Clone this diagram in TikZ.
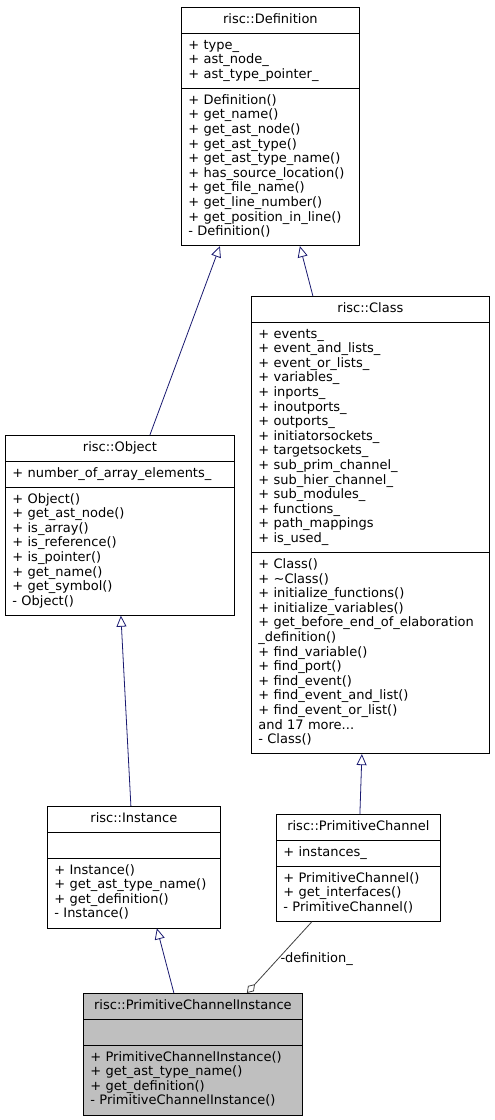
\documentclass[tikz,border=0pt]{standalone}
\usepackage{fontspec}
\setmainfont{DejaVu Sans}
\usetikzlibrary{shapes.multipart,arrows.meta}

\definecolor{inhblue}{HTML}{191970}
\definecolor{aggrey}{HTML}{404040}
\definecolor{curfill}{HTML}{BFBFBF}

\newcommand{\umltitle}[1]{\hbox to\hsize{\hss\strut #1\hss}}

\tikzset{
  umlfont/.style={font=\fontsize{13}{14.6}\selectfont},
  umlclass/.style={draw=black, line width=0.8pt, fill=white, rectangle split, rectangle split parts=3,
    anchor=north west, align=left, inner xsep=7pt, inner ysep=5.25pt, umlfont},
  inherit/.style={draw=inhblue, line width=0.8pt, -{Triangle[open, length=11pt, width=10pt]}},
  aggreg/.style={draw=aggrey, line width=0.8pt, -{Diamond[open, length=12pt, width=8pt]}}
}

\begin{document}
\begin{tikzpicture}[x=1pt, y=-1pt]
\useasboundingbox (0,0) rectangle (495,1120);

% base classes
\node[umlclass, text width=164pt] (def) at (181,7)
  {\umltitle{risc::Definition}
   \nodepart{second}\strut + type\_\\+ ast\_node\_\\+ ast\_type\_pointer\_\strut
   \nodepart{third}\strut + Definition()\\+ get\_name()\\+ get\_ast\_node()\\+ get\_ast\_type()\\+ get\_ast\_type\_name()\\+ has\_source\_location()\\+ get\_file\_name()\\+ get\_line\_number()\\+ get\_position\_in\_line()\\- Definition()\strut};

\node[umlclass, text width=224pt] (cls) at (251,296)
  {\umltitle{risc::Class}
   \nodepart{second}\strut + events\_\\+ event\_and\_lists\_\\+ event\_or\_lists\_\\+ variables\_\\+ inports\_\\+ inoutports\_\\+ outports\_\\+ initiatorsockets\_\\+ targetsockets\_\\+ sub\_prim\_channel\_\\+ sub\_hier\_channel\_\\+ sub\_modules\_\\+ functions\_\\+ path\_mappings\\+ is\_used\_\strut
   \nodepart{third}\strut + Class()\\+ \textasciitilde Class()\\+ initialize\_functions()\\+ initialize\_variables()\\\mbox{+ get\_before\_end\_of\_elaboration}\\\_definition()\\+ find\_variable()\\+ find\_port()\\+ find\_event()\\+ find\_event\_and\_list()\\+ find\_event\_or\_list()\\and 17 more...\\- Class()\strut};

\node[umlclass, text width=215pt] (obj) at (5,435)
  {\umltitle{risc::Object}
   \nodepart{second}\strut + number\_of\_array\_elements\_\strut
   \nodepart{third}\strut + Object()\\+ get\_ast\_node()\\+ is\_array()\\+ is\_reference()\\+ is\_pointer()\\+ get\_name()\\+ get\_symbol()\\- Object()\strut};

\node[umlclass, text width=159pt] (inst) at (47,806)
  {\umltitle{risc::Instance}
   \nodepart{second}\strut
   \nodepart{third}\strut + Instance()\\+ get\_ast\_type\_name()\\+ get\_definition()\\- Instance()\strut};

\node[umlclass, text width=150pt] (pch) at (276,814)
  {\umltitle{risc::PrimitiveChannel}
   \nodepart{second}\strut + instances\_\strut
   \nodepart{third}\strut + PrimitiveChannel()\\+ get\_interfaces()\\- PrimitiveChannel()\strut};

% the class itself
\node[umlclass, fill=curfill, text width=205pt] (pci) at (83,993)
  {\umltitle{risc::PrimitiveChannelInstance}
   \nodepart{second}\strut
   \nodepart{third}\strut + PrimitiveChannelInstance()\\+ get\_ast\_type\_name()\\+ get\_definition()\\- PrimitiveChannelInstance()\strut};

% inheritance
\draw[inherit] ([xshift=30pt]obj.north) -- ([xshift=-50.5pt]def.south);
\draw[inherit] ([xshift=-57.5pt]cls.north) -- ([xshift=29.5pt]def.south);
\draw[inherit] ([xshift=-3pt]inst.north) -- ([xshift=1pt]obj.south);
\draw[inherit] ([xshift=1.5pt]pch.north) -- ([xshift=-8.5pt]cls.south);
\draw[inherit] ([xshift=-19pt]pci.north) -- ([xshift=23pt]inst.south);

% usage
\draw[aggreg] ([xshift=-46.5pt]pch.south) -- ([xshift=54pt]pci.north)
  node[pos=0.52, right, umlfont, inner sep=2pt] (deflbl) {-definition\_};
\end{tikzpicture}
\end{document}
